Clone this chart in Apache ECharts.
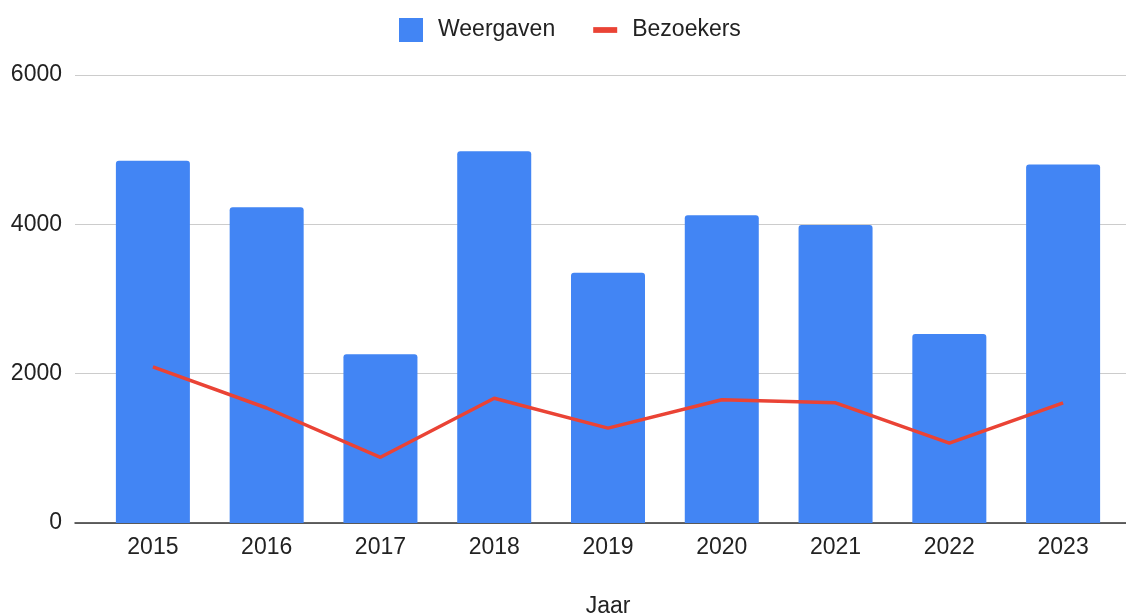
<!DOCTYPE html>
<html>
<head>
<meta charset="utf-8">
<script src="https://cdn.jsdelivr.net/npm/echarts@6/dist/echarts.min.js"></script>
<style>
  html, body { margin: 0; padding: 0; background: #fff; }
  #chart { width: 1126px; height: 616px; }
</style>
</head>
<body>
<div id="chart"></div>
<script>
// jaren en waarden
const jaren = ['2015', '2016', '2017', '2018', '2019', '2020', '2021', '2022', '2023'];
const weergaven = [4850, 4230, 2260, 4980, 3350, 4120, 3990, 2530, 4800];
const bezoekers = [2090, 1540, 880, 1670, 1270, 1650, 1610, 1070, 1610];
const yTicks = [0, 2000, 4000, 6000];

const FONT = '"Liberation Sans", Arial, sans-serif';
const FS = 23;
const BLUE = '#4285f4';
const RED = '#ea4335';

const chart = echarts.init(document.getElementById('chart'));
chart.setOption({
    animation: false,
    textStyle: { fontFamily: FONT },
    legend: {
        top: 13,
        left: 394,
        itemWidth: 24,
        itemHeight: 24,
        itemGap: 38,
        textStyle: { fontSize: FS, color: '#222', padding: [0, 0, 0, 10] },
        data: [
            { name: 'Weergaven', icon: 'rect', itemStyle: { color: BLUE } },
            { name: 'Bezoekers', icon: 'path://M0,9H25V15H0Z', itemStyle: { color: RED } }
        ]
    },
    grid: [
        // breed raster alleen voor rasterlijnen en as-labels
        { left: 75, right: 0, top: 75, bottom: 93, outerBoundsMode: 'none' },
        { left: 96, right: 6, top: 75, bottom: 93, outerBoundsMode: 'none' }
    ],
    xAxis: [
        {
            gridIndex: 0, type: 'category', data: jaren,
            axisLine: { lineStyle: { color: '#333', width: 1.5 } },
            axisTick: { show: false }, axisLabel: { show: false }
        },
        {
            gridIndex: 1, type: 'category', data: jaren,
            name: 'Jaar', nameLocation: 'middle', nameGap: 72,
            nameTextStyle: { fontSize: FS, color: '#222' },
            axisLine: { show: false }, axisTick: { show: false },
            axisLabel: { fontSize: FS, color: '#222', margin: 13 }
        }
    ],
    yAxis: [
        {
            gridIndex: 0, type: 'value', min: yTicks[0], max: yTicks[yTicks.length - 1], interval: 2000,
            axisLine: { show: false }, axisTick: { show: false },
            axisLabel: { fontSize: FS, color: '#222', margin: 13, formatter: v => String(v) },
            splitLine: { lineStyle: { color: '#ccc', width: 1.2 } }
        },
        {
            gridIndex: 1, type: 'value', min: yTicks[0], max: yTicks[yTicks.length - 1], interval: 2000,
            show: false, splitLine: { show: false }
        }
    ],
    series: [
        {
            name: 'Weergaven', type: 'bar', xAxisIndex: 1, yAxisIndex: 1,
            data: weergaven, barWidth: 74,
            itemStyle: { color: BLUE, borderRadius: [3, 3, 0, 0] }
        },
        {
            name: 'Bezoekers', type: 'line', xAxisIndex: 1, yAxisIndex: 1,
            data: bezoekers, symbol: 'none',
            lineStyle: { color: RED, width: 3.5 },
            itemStyle: { color: RED }
        }
    ]
});
</script>
</body>
</html>
